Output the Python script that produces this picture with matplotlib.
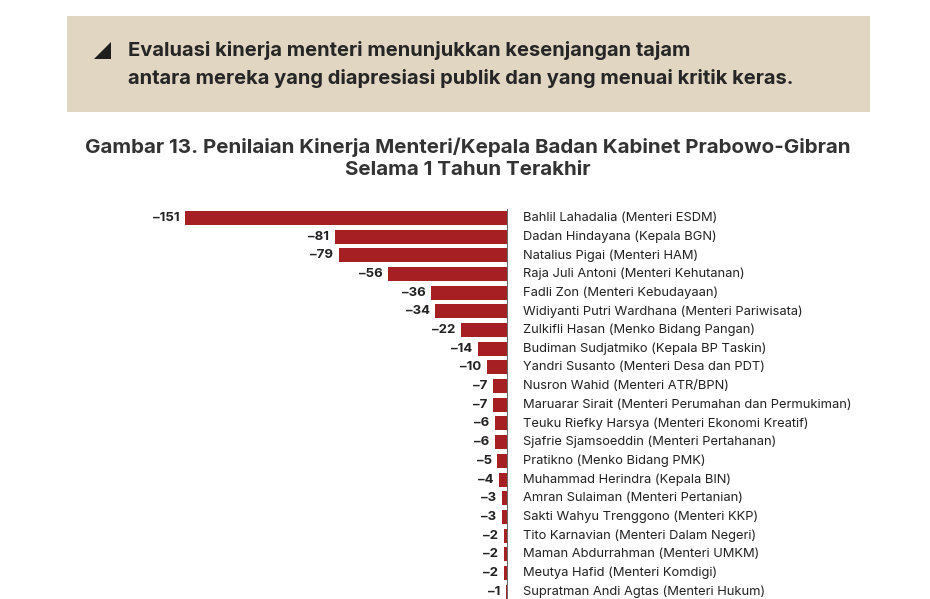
import matplotlib.pyplot as plt
from matplotlib.patches import Rectangle, Polygon

plt.rcParams['font.family'] = ['Inter', 'DejaVu Sans']

names = [
    'Bahlil Lahadalia (Menteri ESDM)',
    'Dadan Hindayana (Kepala BGN)',
    'Natalius Pigai (Menteri HAM)',
    'Raja Juli Antoni (Menteri Kehutanan)',
    'Fadli Zon (Menteri Kebudayaan)',
    'Widiyanti Putri Wardhana (Menteri Pariwisata)',
    'Zulkifli Hasan (Menko Bidang Pangan)',
    'Budiman Sudjatmiko (Kepala BP Taskin)',
    'Yandri Susanto (Menteri Desa dan PDT)',
    'Nusron Wahid (Menteri ATR/BPN)',
    'Maruarar Sirait (Menteri Perumahan dan Permukiman)',
    'Teuku Riefky Harsya (Menteri Ekonomi Kreatif)',
    'Sjafrie Sjamsoeddin (Menteri Pertahanan)',
    'Pratikno (Menko Bidang PMK)',
    'Muhammad Herindra (Kepala BIN)',
    'Amran Sulaiman (Menteri Pertanian)',
    'Sakti Wahyu Trenggono (Menteri KKP)',
    'Tito Karnavian (Menteri Dalam Negeri)',
    'Maman Abdurrahman (Menteri UMKM)',
    'Meutya Hafid (Menteri Komdigi)',
    'Supratman Andi Agtas (Menteri Hukum)',
]
scores = [-151, -81, -79, -56, -36, -34, -22, -14, -10, -7, -7,
          -6, -6, -5, -4, -3, -3, -2, -2, -2, -1]

W, H = 930, 599
fig = plt.figure(figsize=(W / 100, H / 100), dpi=100)
fig.patch.set_facecolor('white')

def fx(px):
    return px / W

def fy(py):
    return 1 - py / H

# header box
fig.patches.append(Rectangle((fx(67), fy(112)), fx(870) - fx(67), fy(16) - fy(112),
                             transform=fig.transFigure, facecolor='#e0d6c2',
                             edgecolor='none', zorder=0))
fig.patches.append(Polygon([(fx(94), fy(59)), (fx(111), fy(59)), (fx(111), fy(42))],
                           closed=True, transform=fig.transFigure,
                           facecolor='#1e1e1e', edgecolor='none'))
fig.text(fx(128), fy(50), 'Evaluasi kinerja menteri menunjukkan kesenjangan tajam',
         fontsize=14.5, fontweight='bold', color='#262626', va='center', ha='left')
fig.text(fx(128), fy(78), 'antara mereka yang diapresiasi publik dan yang menuai kritik keras.',
         fontsize=14.5, fontweight='bold', color='#262626', va='center', ha='left')

# title
fig.text(fx(468), fy(147), 'Gambar 13. Penilaian Kinerja Menteri/Kepala Badan Kabinet Prabowo-Gibran',
         fontsize=14.8, fontweight='bold', color='#333333', va='center', ha='center')
fig.text(fx(468), fy(170), 'Selama 1 Tahun Terakhir',
         fontsize=14.8, fontweight='bold', color='#333333', va='center', ha='center')

# bar chart
step = 18.68
top = 218 - step / 2
bottom = 218 + step * 21.5
ax = fig.add_axes([fx(185), fy(bottom), fx(508) - fx(185), fy(top) - fy(bottom)])
ax.set_facecolor('none')
ypos = list(range(len(scores)))
ax.barh(ypos, scores, height=0.75, color='#a61f23')
ax.set_xlim(-151, 0)
ax.set_ylim(21.5, -0.5)
ax.axvline(0, color='#6b6b6b', linewidth=1.5)
for s in ax.spines.values():
    s.set_visible(False)
ax.set_xticks([])
ax.set_yticks([])

for y, v, n in zip(ypos, scores, names):
    ax.annotate('\u2013' + str(abs(v)), (v, y), xytext=(-4, 0), textcoords='offset points',
                ha='right', va='center', fontsize=9.5, fontweight='bold', color='#222222')
    ax.annotate(n, (0, y), xytext=(11, 0), textcoords='offset points',
                ha='left', va='center', fontsize=9.3, color='#222222')

fig.savefig('out.png', dpi=100)
